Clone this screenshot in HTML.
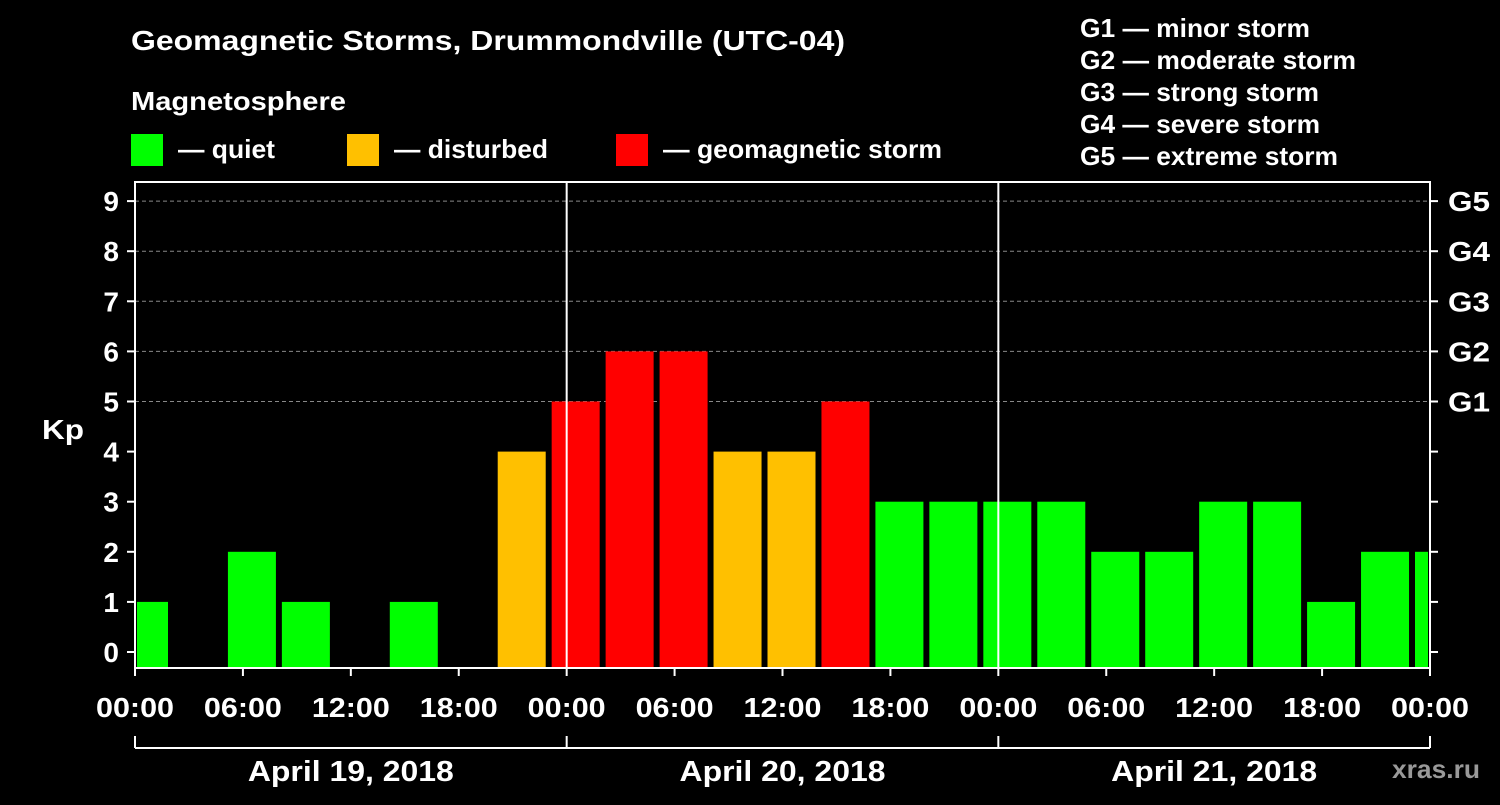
<!DOCTYPE html>
<html><head><meta charset="utf-8"><style>
body{margin:0;background:#000;}
svg text{font-family:"Liberation Sans",Arial,sans-serif;font-weight:bold;fill:#fff;}
</style></head><body>
<svg id="chart" width="1500" height="800" xmlns="http://www.w3.org/2000/svg">
<rect width="1500" height="800" fill="#000"/>
<text x="131" y="50" font-size="28" textLength="714" lengthAdjust="spacingAndGlyphs">Geomagnetic Storms, Drummondville (UTC-04)</text>
<text x="131" y="110" font-size="26" textLength="215" lengthAdjust="spacingAndGlyphs">Magnetosphere</text>
<g><rect x="131" y="134" width="32" height="32" fill="#00ff00"/><text x="178" y="158" font-size="26" textLength="97" lengthAdjust="spacingAndGlyphs">— quiet</text></g>
<g><rect x="347" y="134" width="32" height="32" fill="#ffc000"/><text x="394" y="158" font-size="26" textLength="154" lengthAdjust="spacingAndGlyphs">— disturbed</text></g>
<g><rect x="616" y="134" width="32" height="32" fill="#ff0000"/><text x="663" y="158" font-size="26" textLength="279" lengthAdjust="spacingAndGlyphs">— geomagnetic storm</text></g>
<g font-size="26">
<text x="1080" y="37" textLength="230" lengthAdjust="spacingAndGlyphs">G1 — minor storm</text>
<text x="1080" y="69" textLength="276" lengthAdjust="spacingAndGlyphs">G2 — moderate storm</text>
<text x="1080" y="101" textLength="239" lengthAdjust="spacingAndGlyphs">G3 — strong storm</text>
<text x="1080" y="133" textLength="240" lengthAdjust="spacingAndGlyphs">G4 — severe storm</text>
<text x="1080" y="165" textLength="258" lengthAdjust="spacingAndGlyphs">G5 — extreme storm</text>
</g>
<text x="42" y="439" font-size="28" textLength="42" lengthAdjust="spacingAndGlyphs">Kp</text>
<text x="1392" y="778" font-size="26" textLength="88" lengthAdjust="spacingAndGlyphs" style="fill:#999">xras.ru</text>
<g id="grid"></g><g id="bars"></g><g id="axes"></g>
</svg>
<script>
const kpValues=[1,0,2,1,0,1,0,4,5,6,6,4,4,5,3,3,3,3,2,2,3,3,1,2,2];
const yTicks=[0,1,2,3,4,5,6,7,8,9];
const gLabels=["G1","G2","G3","G4","G5"];
const xTickLabels=["00:00","06:00","12:00","18:00","00:00","06:00","12:00","18:00","00:00","06:00","12:00","18:00","00:00"];
const dayLabels=["April 19, 2018","April 20, 2018","April 21, 2018"];
const NS="http://www.w3.org/2000/svg";
const X0=135,X1=1430,YT=182,YB=668;
const xScale=h=>X0+(X1-X0)*h/72;
const yScale=v=>652-v*50.1;
function mk(tag,attrs,parent,text){const e=document.createElementNS(NS,tag);for(const k in attrs)e.setAttribute(k,attrs[k]);if(text!==undefined)e.textContent=text;parent.appendChild(e);return e;}
const grid=document.getElementById('grid'),bars=document.getElementById('bars'),axes=document.getElementById('axes');
for(let v=5;v<=9;v++){const l=mk('line',{x1:X0,x2:X1,y1:yScale(v),y2:yScale(v),stroke:'#888','stroke-dasharray':'4,3','stroke-width':1},grid);

}
kpValues.forEach((v,i)=>{
 if(v<=0)return;
 let x=xScale(i*3)-15,w=48;let xa=Math.max(x,X0+2),xb=Math.min(x+w,X1-2);
 const c=v>=5?'#ff0000':(v>=4?'#ffc000':'#00ff00');
 const r=mk('rect',{x:xa,y:yScale(v),width:xb-xa,height:YB-yScale(v),fill:c},bars);
 
 
});
const frame=mk('rect',{x:X0,y:YT,width:X1-X0,height:YB-YT,fill:'none',stroke:'#fff','stroke-width':2},axes);


[24,48].forEach(h=>{const l=mk('line',{x1:xScale(h),x2:xScale(h),y1:YT,y2:YB,stroke:'#fff','stroke-width':2},axes);

});
yTicks.forEach(v=>{const y=yScale(v);
 mk('line',{x1:X0-8,x2:X0,y1:y,y2:y,stroke:'#fff','stroke-width':2},axes);
 mk('line',{x1:X1,x2:X1+8,y1:y,y2:y,stroke:'#fff','stroke-width':2},axes);
 const t=mk('text',{x:X0-16,y:y+10,'font-size':28,'text-anchor':'end'},axes,String(v));
 
 
 if(v>=5){const g=mk('text',{x:X1+18,y:y+10,'font-size':28,textLength:42,lengthAdjust:'spacingAndGlyphs'},axes,gLabels[v-5]);
 
 }
});
xTickLabels.forEach((s,i)=>{const x=xScale(i*6);
 mk('line',{x1:x,x2:x,y1:YB,y2:YB+8,stroke:'#fff','stroke-width':2},axes);
 const t=mk('text',{x:x-39,y:717,'font-size':28,textLength:78,lengthAdjust:'spacingAndGlyphs'},axes,s);
 
 });
mk('line',{x1:X0,x2:X1,y1:748,y2:748,stroke:'#fff','stroke-width':2},axes);
[0,24,48,72].forEach(h=>mk('line',{x1:xScale(h),x2:xScale(h),y1:736,y2:748,stroke:'#fff','stroke-width':2},axes));
dayLabels.forEach((s,i)=>{const t=mk('text',{x:xScale(i*24+12)-103,y:781,'font-size':29,textLength:206,lengthAdjust:'spacingAndGlyphs'},axes,s);
 
 });
</script>
</body></html>
